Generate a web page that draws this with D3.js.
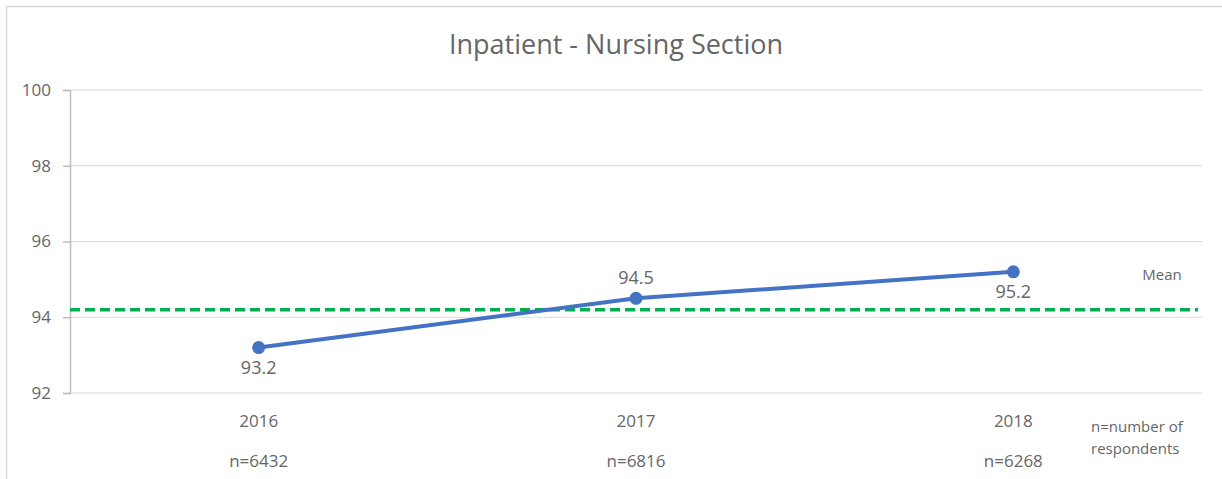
<!DOCTYPE html>
<html lang="en">
<head>
    <meta charset="UTF-8">
    <title>Inpatient - Nursing Section</title>
    <script src="https://d3js.org/d3.v7.min.js"></script>
    <style>
        body {
            margin: 0;
            padding: 0;
            background: #fff;
            font-family: "Open Sans", "Noto Sans", sans-serif;
        }
        text {
            fill: #666666;
        }
    </style>
</head>
<body>
    <script>
        const years = ["2016", "2017", "2018"];
        const scores = [93.2, 94.5, 95.2];
        const respondents = ["n=6432", "n=6816", "n=6268"];
        const meanValue = 94.2;
        const yTicks = [92, 94, 96, 98, 100];

        const width = 1222;
        const height = 479;
        const margin = { top: 90, right: 20, bottom: 86, left: 70 };
        const plotRight = 1202;

        const svg = d3.select("body")
            .append("svg")
            .attr("width", width)
            .attr("height", height);

        // chart frame
        svg.append("path")
            .attr("d", `M6.5,${height} V6.5 H${width}`)
            .attr("fill", "none")
            .attr("stroke", "#d9d9d9")
            .attr("stroke-width", 1.5);

        const x = d3.scaleBand()
            .domain(years)
            .range([margin.left, plotRight]);

        const y = d3.scaleLinear()
            .domain([92, 100])
            .range([393, 90]);

        // gridlines
        svg.append("g")
            .selectAll("line")
            .data(yTicks)
            .enter()
            .append("line")
            .attr("x1", margin.left)
            .attr("x2", plotRight)
            .attr("y1", d => y(d))
            .attr("y2", d => y(d))
            .attr("stroke", "#d9d9d9")
            .attr("stroke-width", 1);

        // y axis
        const yAxis = svg.append("g")
            .attr("transform", `translate(${margin.left},0)`)
            .call(d3.axisLeft(y).tickValues(yTicks).tickSize(7).tickPadding(12));
        yAxis.attr("font-size", 17).attr("font-family", "'Open Sans', sans-serif");
        yAxis.select(".domain").attr("stroke", "#bfbfbf").attr("stroke-width", 1.5);
        yAxis.selectAll(".tick line").attr("stroke", "#bfbfbf").attr("stroke-width", 1.5);
        yAxis.selectAll(".tick text").attr("fill", "#666666");

        // x labels
        svg.append("g")
            .selectAll("text")
            .data(years)
            .enter()
            .append("text")
            .attr("x", d => x(d) + x.bandwidth() / 2)
            .attr("y", 427)
            .attr("text-anchor", "middle")
            .style("font-size", "17px")
            .text(d => d);

        svg.append("g")
            .selectAll("text")
            .data(respondents)
            .enter()
            .append("text")
            .attr("x", (d, i) => x(years[i]) + x.bandwidth() / 2)
            .attr("y", 467)
            .attr("text-anchor", "middle")
            .style("font-size", "17px")
            .text(d => d);

        // mean line
        svg.append("line")
            .attr("x1", margin.left)
            .attr("x2", 1198)
            .attr("y1", y(meanValue))
            .attr("y2", y(meanValue))
            .attr("stroke", "#00b050")
            .attr("stroke-width", 3.5)
            .attr("stroke-dasharray", "10,5");

        // series line
        const line = d3.line()
            .x((d, i) => x(years[i]) + x.bandwidth() / 2)
            .y(d => y(d));

        svg.append("path")
            .datum(scores)
            .attr("d", line)
            .attr("fill", "none")
            .attr("stroke", "#4472c4")
            .attr("stroke-width", 4);

        svg.append("g")
            .selectAll("circle")
            .data(scores)
            .enter()
            .append("circle")
            .attr("cx", (d, i) => x(years[i]) + x.bandwidth() / 2)
            .attr("cy", d => y(d))
            .attr("r", 6.5)
            .attr("fill", "#4472c4");

        // data labels: 2016 and 2018 below, 2017 above
        const labelOffset = [26, -14, 26];
        svg.append("g")
            .selectAll("text")
            .data(scores)
            .enter()
            .append("text")
            .attr("x", (d, i) => x(years[i]) + x.bandwidth() / 2)
            .attr("y", (d, i) => y(d) + labelOffset[i])
            .attr("text-anchor", "middle")
            .style("font-size", "18px")
            .text(d => d.toFixed(1));

        // title
        svg.append("text")
            .attr("x", 616)
            .attr("y", 54)
            .attr("text-anchor", "middle")
            .style("font-size", "27px")
            .text("Inpatient - Nursing Section");

        // side notes
        svg.append("text")
            .attr("x", 1162)
            .attr("y", 280)
            .attr("text-anchor", "middle")
            .style("font-size", "15px")
            .text("Mean");

        const note = svg.append("text")
            .attr("x", 1091)
            .style("font-size", "15px");
        note.append("tspan").attr("x", 1091).attr("y", 432).text("n=number of");
        note.append("tspan").attr("x", 1091).attr("y", 454).text("respondents");
    </script>
</body>
</html>
